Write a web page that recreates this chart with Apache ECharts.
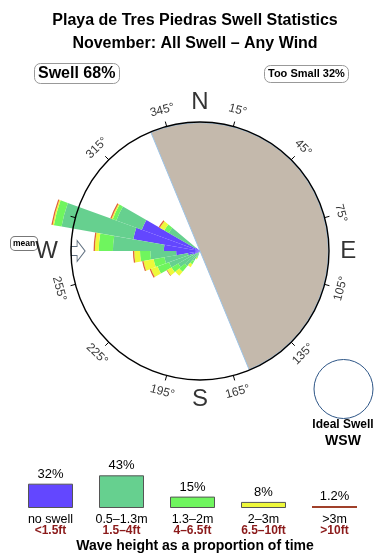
<!DOCTYPE html>
<html><head><meta charset="utf-8">
<script src="https://cdn.jsdelivr.net/npm/echarts@6/dist/echarts.min.js"></script>
<style>html,body{margin:0;padding:0;background:#fff}#c{width:390px;height:560px}</style>
</head><body><div id="c"></div>
<script>
// ---------- data ----------
const titleLines = ['Playa de Tres Piedras Swell Statistics', 'November: All Swell \u2013 Any Wind'];
const swellLabel = 'Swell 68%';
const tooSmallLabel = 'Too Small 32%';
// direction bins (compass degrees, bin centres, 10 deg wide)
const directions = [205, 215, 225, 235, 245, 255, 265, 275, 285, 295, 305];
// proportion of time (%) per direction bin and height class
const noSwell  = [0.0, 0.2, 0.3, 0.6, 1.2, 1.9, 3.7, 5.6, 10.5, 9.6, 0.8];
const h05to13  = [0.9, 1.6, 2.8, 3.3, 3.9, 3.7, 4.0, 7.9, 11.3, 4.2, 4.8];
const h13to2   = [0.3, 0.6, 1.1, 1.2, 1.9, 1.7, 1.6, 2.2, 1.2, 0.6, 0.8];
const h2to3    = [0.2, 0.5, 0.8, 0.8, 1.1, 1.6, 0.9, 0.6, 0.2, 0.2, 0.8];
const h3plus   = [0.0, 0.0, 0.0, 0.1, 0.2, 0.2, 0.2, 0.2, 0.2, 0.2, 0.2];
const classNames = ['no swell', '0.5\u20131.3m', '1.3\u20132m', '2\u20133m', '>3m'];
const classFeet  = ['<1.5ft', '1.5\u20134ft', '4\u20136.5ft', '6.5\u201310ft', '>10ft'];
const classPct   = [32, 43, 15, 8, 1.2];
const tickAngles = [15, 45, 75, 105, 135, 165, 195, 225, 255, 285, 315, 345];
const tickLabels = ['15\u00b0', '45\u00b0', '75\u00b0', '105\u00b0', '135\u00b0', '165\u00b0', '195\u00b0', '225\u00b0', '255\u00b0', '', '315\u00b0', '345\u00b0'];
const compassLetters = ['N', 'E', 'S', 'W'];
const compassAngles = [0, 90, 180, 270];
const landSector = [337.5, 157.5]; // from, to (clockwise)
const meanDirection = 270;
const idealSwell = ['Ideal Swell', 'WSW'];
const axisTitle = 'Wave height as a proportion of time';
const circlePct = 20; // value at compass circle

// ---------- styles ----------
const F = "'Liberation Sans', Arial, Helvetica, sans-serif";
const colors = ['#6347ff', '#66d08f', '#6ff55e', '#eef83a', '#e0623a'];
const legendColors = ['#6347ff', '#66d08f', '#6ff55e', '#eef83a', '#a0402a'];
const CX = 200, CY = 251, R = 129;
const outerMax = 25;

const allBins = Array.from({length: 36}, (_, i) => 5 + 10 * i);
function toBins(vals) { return allBins.map(c => { const k = directions.indexOf(c); return k < 0 ? 0 : vals[k]; }); }
const classes = [noSwell, h05to13, h13to2, h2to3, h3plus];

function cwRot(a) { if (a > 90 && a < 270) return a - 180; if (a >= 270) return a - 360; return a; }

const roseSeries = classes.map((vals, i) => ({
  type: 'bar', coordinateSystem: 'polar', polarIndex: 0, stack: 'rose',
  barCategoryGap: '0%', data: toBins(vals), silent: true,
  itemStyle: {color: colors[i]}, z: 3
}));

const landSpan = ((landSector[1] - landSector[0]) % 360 + 360) % 360;
let pieStart = 90 - landSector[0]; pieStart = ((pieStart % 360) + 360) % 360;

const hidden = {color: 'rgba(255,255,255,0)', borderWidth: 0};

const option = {
  animation: false,
  title: [
    {text: titleLines[0], left: 'center', top: 7, textStyle: {fontFamily: F, fontWeight: 'bold', fontSize: 16, lineHeight: 18, color: '#000'}},
    {text: titleLines[1], left: 'center', top: 30, textStyle: {fontFamily: F, fontWeight: 'bold', fontSize: 16, lineHeight: 18, color: '#000'}},
    {text: swellLabel, left: 34, top: 63, padding: [1, 4], borderColor: '#999', borderWidth: 1, borderRadius: 6,
     textStyle: {fontFamily: F, fontWeight: 'bold', fontSize: 16, lineHeight: 19, color: '#000'}},
    {text: tooSmallLabel, left: 264, top: 65, padding: [3, 4], borderColor: '#999', borderWidth: 1, borderRadius: 6,
     textStyle: {fontFamily: F, fontWeight: 'bold', fontSize: 11, lineHeight: 12, color: '#000'}}
  ],
  polar: [
    {center: [CX, CY], radius: R * outerMax / circlePct},
    {center: [CX, CY], radius: R},
    {center: [CX, CY], radius: R}
  ],
  angleAxis: [
    {polarIndex: 0, type: 'category', data: allBins.map(String), startAngle: 90, clockwise: true, boundaryGap: true, show: false},
    {polarIndex: 1, type: 'category', data: tickAngles.map(String), startAngle: 90, clockwise: true, boundaryGap: true, z: 10,
     axisLine: {show: true, lineStyle: {color: '#000', width: 1.4}},
     axisTick: {show: true, alignWithLabel: true, inside: false, length: 5, lineStyle: {color: '#000', width: 1}},
     axisLabel: {show: false}, splitLine: {show: false}},
    {polarIndex: 2, type: 'value', min: 0, max: 360, startAngle: 90, clockwise: true, show: false}
  ],
  radiusAxis: [
    {polarIndex: 0, type: 'value', min: 0, max: outerMax, show: false},
    {polarIndex: 1, type: 'value', min: 0, max: 1, show: false},
    {polarIndex: 2, type: 'value', min: 0, max: 1, show: false}
  ],
  grid: {left: 15, width: 355, top: 470, height: 38},
  xAxis: {type: 'category', data: classNames, axisLine: {show: false}, axisTick: {show: false},
    axisLabel: {margin: 6, interval: 0, formatter: (v, i) => '{a|' + v + '}\n{b|' + classFeet[i] + '}',
      rich: {a: {fontFamily: F, fontSize: 12.5, color: '#000', lineHeight: 11},
             b: {fontFamily: F, fontSize: 12, fontWeight: 'bold', color: '#8b1a1a', lineHeight: 11}}}},
  yAxis: {type: 'value', min: 0, max: 50, show: false},
  series: [
    {type: 'pie', center: [CX, CY], radius: [0, R - 0.6], startAngle: pieStart, clockwise: true, silent: true, z: 1,
     label: {show: false}, labelLine: {show: false},
     data: [{value: landSpan, itemStyle: {color: '#c4b9ac', borderColor: '#9cc3e6', borderWidth: 1}},
            {value: 360 - landSpan, itemStyle: {color: 'rgba(0,0,0,0)', borderWidth: 0}}]},
    ...roseSeries,
    // tick labels
    {type: 'scatter', coordinateSystem: 'polar', polarIndex: 2, clip: false, symbol: 'circle', symbolSize: 1, silent: true, z: 5,
     itemStyle: hidden,
     label: {show: true, position: 'inside', fontFamily: F, fontSize: 12, color: '#000'},
     data: tickAngles.map((a, i) => ({value: [1.13, a], label: {formatter: tickLabels[i], rotate: -cwRot(a)}}))},
    // compass letters
    {type: 'scatter', coordinateSystem: 'polar', polarIndex: 2, clip: false, symbol: 'circle', symbolSize: 1, silent: true, z: 5,
     itemStyle: hidden,
     label: {show: true, position: 'inside', fontFamily: F, fontSize: 24, color: '#000'},
     data: compassAngles.map((a, i) => ({value: [compassLetters[i] === 'W' ? 1.19 : 1.15, a],
       label: {formatter: compassLetters[i]}}))},
    // mean direction arrow
    {type: 'scatter', coordinateSystem: 'polar', polarIndex: 2, clip: false, silent: true, z: 6,
     symbol: 'path://M0,6 L6,6 L6,0 L14,10.5 L6,21 L6,15 L0,15 Z', symbolSize: [14, 21],
     symbolRotate: -90 - meanDirection,
     itemStyle: {color: '#fff', borderColor: '#34495e', borderWidth: 1},
     data: [[0.945, meanDirection]]},
    // legend bars
    {type: 'bar', xAxisIndex: 0, yAxisIndex: 0, barWidth: 45, barMinHeight: 2, silent: true,
     label: {show: true, position: 'top', distance: 3, formatter: p => p.value + '%', fontFamily: F, fontSize: 13, color: '#000'},
     data: classPct.map((v, i) => ({value: v, itemStyle: {color: legendColors[i], borderColor: i === 4 ? legendColors[i] : '#555', borderWidth: i === 4 ? 0 : 1}}))}
  ],
  graphic: [
    {type: 'circle', shape: {cx: 343.5, cy: 389, r: 29.5}, style: {fill: 'none', stroke: '#2d5586', lineWidth: 1}},
    {type: 'text', x: 343, y: 425, style: {text: idealSwell[0], font: 'bold 12px ' + F, fill: '#000', align: 'center', textAlign: 'center', verticalAlign: 'middle', textVerticalAlign: 'middle'}},
    {type: 'text', x: 343, y: 441, style: {text: idealSwell[1], font: 'bold 14px ' + F, fill: '#000', align: 'center', textAlign: 'center', verticalAlign: 'middle', textVerticalAlign: 'middle'}},
    {type: 'text', x: 11, y: 237, z: -1, zlevel: 0, style: {text: 'mean', font: 'bold 8.5px ' + F, fill: '#000', backgroundColor: '#fff', borderColor: '#777', borderWidth: 1, borderRadius: 4, padding: [2, 2]}},
    {type: 'text', x: 195, y: 546, style: {text: axisTitle, font: 'bold 14px ' + F, fill: '#000', align: 'center', textAlign: 'center', verticalAlign: 'middle', textVerticalAlign: 'middle'}}
  ]
};
const chart = echarts.init(document.getElementById('c'), null, {renderer: 'canvas'});
chart.setOption(option);
</script>
</body></html>
